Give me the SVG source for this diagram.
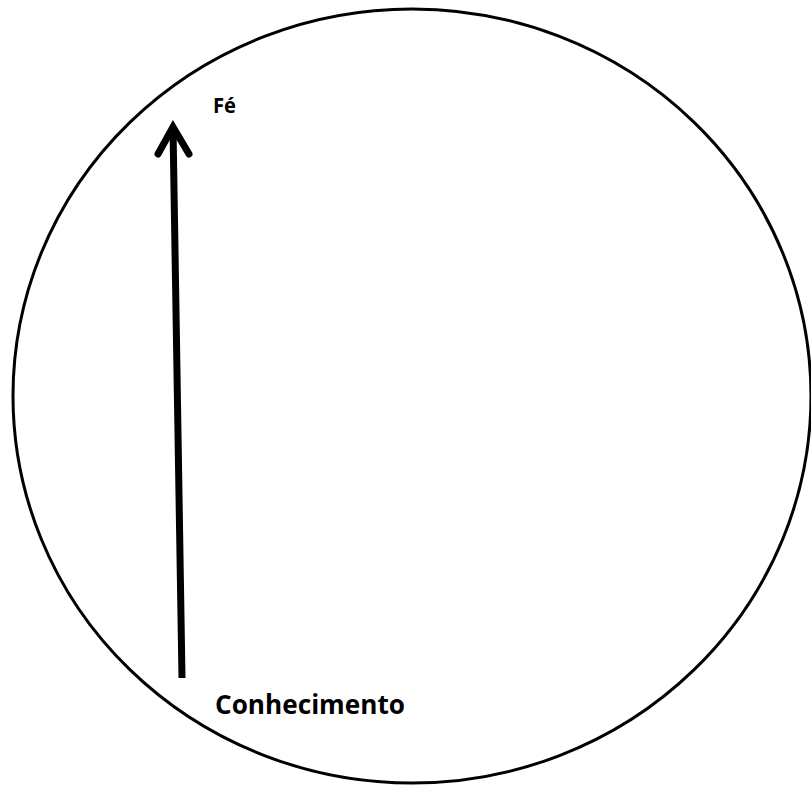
<svg xmlns="http://www.w3.org/2000/svg" width="811" height="785" viewBox="0 0 811 785">
<style>
.lbl{font-family:"Open Sans","Liberation Sans",sans-serif;font-weight:bold;fill:#000}
</style>
<rect width="811" height="785" fill="#fff"/>
<g id="circle">
<ellipse cx="412" cy="396" rx="399" ry="387" fill="none" stroke="#000" stroke-width="3"/>
</g>
<g id="connectors">
<line x1="182" y1="678" x2="173" y2="128" stroke="#000" stroke-width="7"/>
<polyline points="158,154 173,127 189,154" fill="none" stroke="#000" stroke-width="7" stroke-linecap="round" stroke-linejoin="miter"/>
</g>
<g id="fe">
<text class="lbl" x="213" y="113" font-size="22" textLength="23" lengthAdjust="spacingAndGlyphs">Fé</text>
</g>
<g id="conhecimento">
<text class="lbl" x="215" y="714" font-size="26" textLength="190" lengthAdjust="spacingAndGlyphs">Conhecimento</text>
</g>
</svg>
